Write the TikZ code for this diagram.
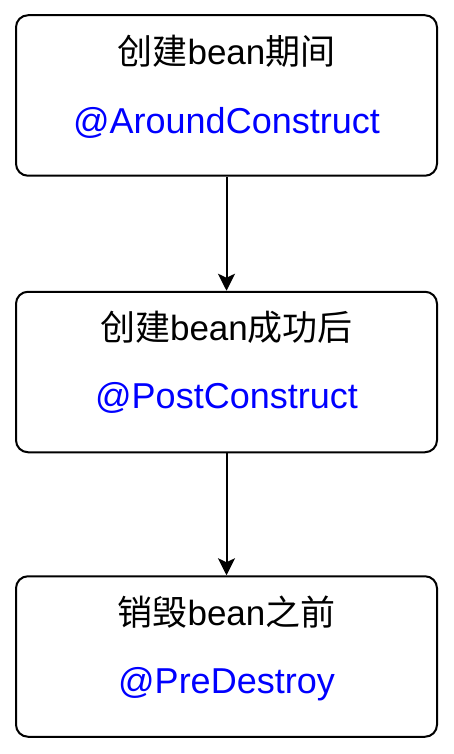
\documentclass[tikz,border=0pt]{standalone}
\usepackage{fontspec}
\setmainfont{Liberation Sans}
\newfontfamily\cjk{Noto Sans CJK SC}
\usepackage{xcolor}
\usetikzlibrary{positioning,arrows.meta}

\definecolor{hookblue}{HTML}{0000FF}
\newcommand{\zh}[1]{{\cjk #1}}

\tikzset{
    stage/.style={draw, line width=2pt, rounded corners=12pt,
        minimum width=421pt, minimum height=160.5pt},
    heading/.style={anchor=base, font=\fontsize{35}{42}\selectfont},
    hook/.style={anchor=base, text=hookblue, font=\fontsize{36}{43}\selectfont},
    flow/.style={line width=2pt, -{Stealth[length=17pt, width=17pt, inset=4pt]}}
}

\begin{document}
\begin{tikzpicture}
    \useasboundingbox (0,0) rectangle (454pt,-754pt);

    % the three lifecycle stages
    \node[stage] (during) at (226.5pt,-95.5pt) {};
    \node[stage, below=114pt of during] (created) {};
    \node[stage, below=122pt of created] (destroy) {};

    \node[heading] (duringtitle) at ([yshift=-50pt]during.north) {\zh{创建}bean\zh{期间}};
    \node[hook] (duringhook) at ([yshift=-119pt]during.north) {@AroundConstruct};

    \node[heading] (createdtitle) at ([yshift=-50pt]created.north) {\zh{创建}bean\zh{成功后}};
    \node[hook] (createdhook) at ([yshift=-118pt]created.north) {@PostConstruct};

    \node[heading] (destroytitle) at ([yshift=-50pt]destroy.north) {\zh{销毁}bean\zh{之前}};
    \node[hook] (destroyhook) at ([yshift=-118pt]destroy.north) {@PreDestroy};

    \draw[flow] (during) -- (created);
    \draw[flow] (created) -- (destroy);
\end{tikzpicture}
\end{document}
